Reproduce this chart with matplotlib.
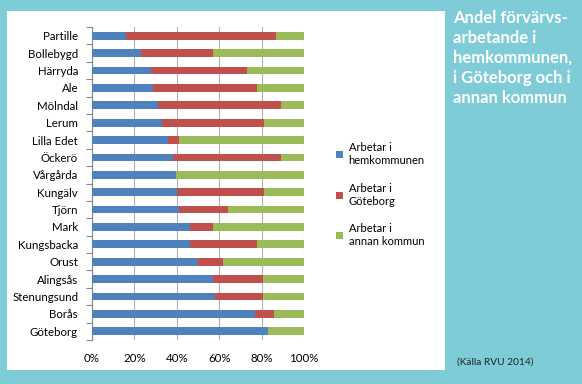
import numpy as np
import matplotlib
matplotlib.use("Agg")
from matplotlib import pyplot as plt
from matplotlib.patches import Rectangle, Patch

# Andel (%) per kommun, uppifrån och ned som i originalet
kommuner = ["Partille", "Bollebygd", "Härryda", "Ale", "Mölndal", "Lerum",
            "Lilla Edet", "Öckerö", "Vårgårda", "Kungälv", "Tjörn", "Mark",
            "Kungsbacka", "Orust", "Alingsås", "Stenungsund", "Borås", "Göteborg"]
hemkommunen = [16, 23, 28, 29, 31, 33, 36, 38, 39.5, 40, 41, 46,
               46, 50, 57, 58, 77, 83]
goteborg = [71, 34, 45, 49, 58, 48, 5, 51, 0, 41, 23, 11,
            32, 12, 23.5, 22.5, 9, 0]
annan = [100 - h - g for h, g in zip(hemkommunen, goteborg)]

labels = ["Arbetar i\nhemkommunen", "Arbetar i\nGöteborg", "Arbetar i\nannan kommun"]
colors = ["#4F81BD", "#C0504D", "#9BBB59"]

plt.rcParams['font.family'] = ['Lato', 'DejaVu Sans']

W, H = 582, 384
fig = plt.figure(figsize=(W / 100, H / 100), dpi=100, facecolor="#7ECCD8")
# vit panel bakom diagrammet
fig.patches.append(Rectangle((7 / W, 1 - 370 / H), (445 - 7) / W, (370 - 11) / H,
                             transform=fig.transFigure, facecolor="white",
                             edgecolor="none", zorder=-5))

ax = fig.add_axes([92 / W, 1 - 340 / H, (304 - 92) / W, (340 - 27) / H])
ax.set_facecolor("none")
ax.set_zorder(2)

y = np.arange(len(kommuner))
left = np.zeros(len(kommuner))
for vals, lab, col in zip([hemkommunen, goteborg, annan], labels, colors):
    ax.barh(y, vals, left=left, height=0.45, color=col, label=lab, zorder=3)
    left += np.array(vals)

ax.set_ylim(len(kommuner) - 0.5, -0.5)
ax.set_xlim(0, 100)
ax.set_yticks(y)
ax.set_yticklabels(kommuner, fontsize=8.3)
ax.set_yticks(np.arange(-0.5, len(kommuner)), minor=True)
ax.tick_params(axis="y", which="major", length=0, pad=10)
ax.tick_params(axis="y", which="minor", length=4, color="#868686", width=0.8)
ax.set_xticks(np.arange(0, 101, 20))
ax.set_xticklabels([f"{v}%" for v in range(0, 101, 20)], fontsize=8.3)
ax.tick_params(axis="x", length=0, pad=9)
ax.grid(axis="x", color="#B0B0B0", linewidth=0.8, zorder=0)
for s in ["top", "right", "bottom"]:
    ax.spines[s].set_visible(False)
ax.spines["left"].set_color("#868686")
ax.spines["left"].set_linewidth(0.8)

handles = [Patch(facecolor=c, edgecolor="none") for c in colors]
fig.legend(handles, labels, loc="upper left", bbox_to_anchor=(332 / W, 1 - 138 / H),
           frameon=False, fontsize=8, handlelength=0.6, handleheight=0.6,
           handletextpad=0.5, labelspacing=1.5, borderaxespad=0)

fig.text(453 / W, 1 - 10 / H,
         "Andel förvärvs-\narbetande i\nhemkommunen,\ni Göteborg och i\nannan kommun",
         color="white", fontsize=12, fontweight="bold", va="top", ha="left",
         linespacing=1.3)
fig.text(457 / W, 1 - 362 / H, "(Källa RVU 2014)", fontsize=7.3, color="#222222",
         va="center", ha="left")

fig.savefig("out.png", dpi=100, facecolor=fig.get_facecolor())
